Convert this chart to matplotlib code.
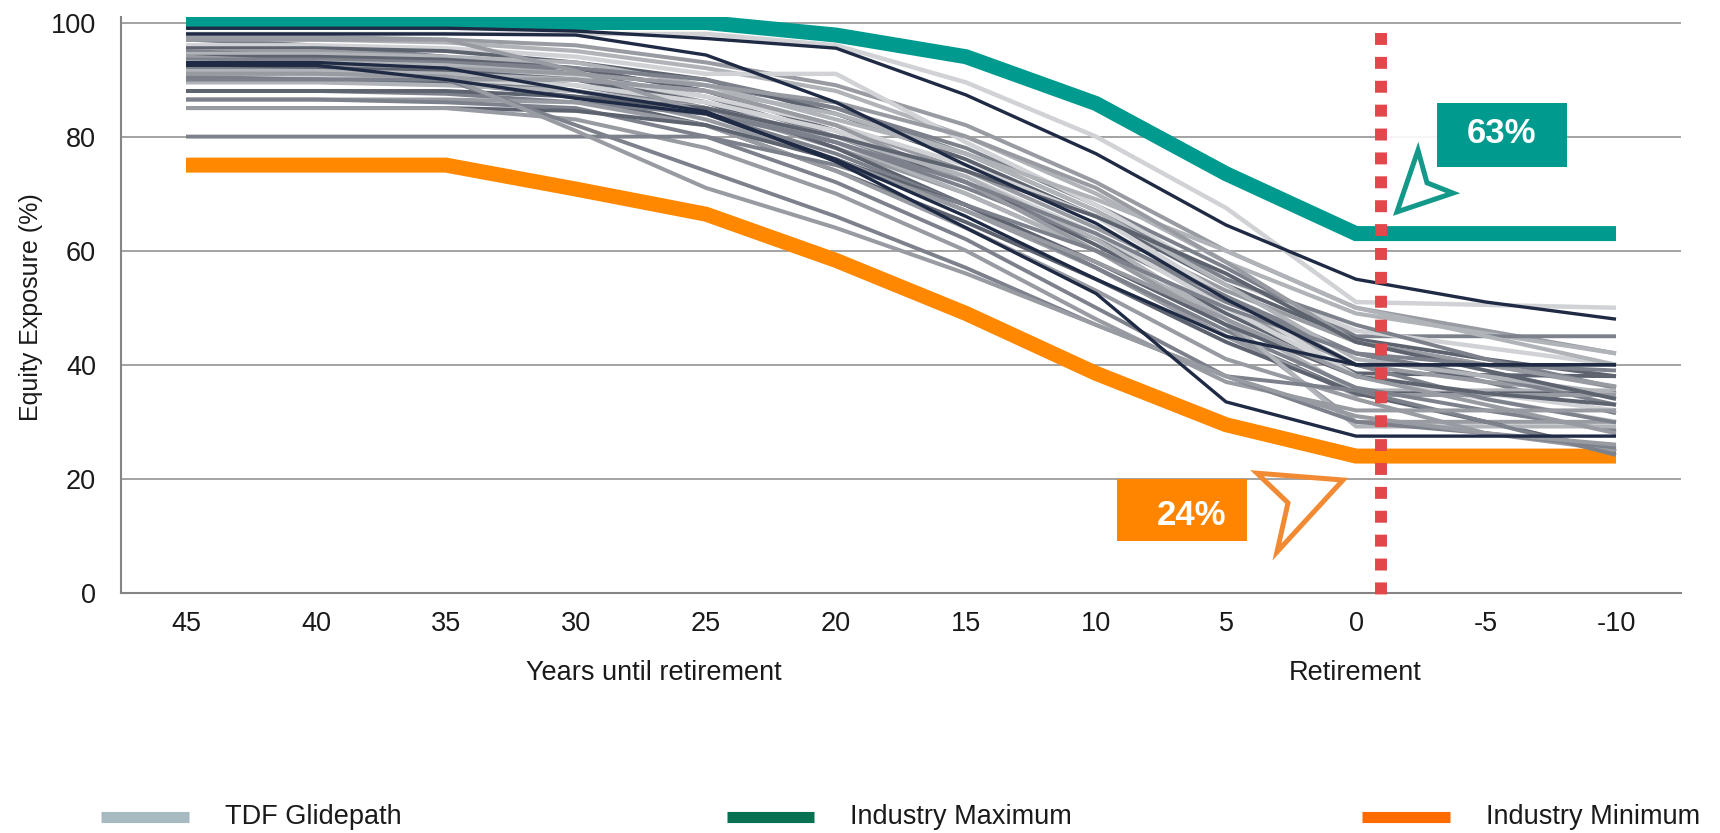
import matplotlib.pyplot as plt
from matplotlib.patches import Polygon, Rectangle
from matplotlib.lines import Line2D

plt.rcParams['font.family'] = ['Liberation Sans', 'DejaVu Sans']

years = ['45', '40', '35', '30', '25', '20', '15', '10', '5', '0', '-5', '-10']

industry_max = [100, 100, 100, 100, 100, 97.8, 94, 85.8, 73.5, 63, 63, 63]
industry_min = [75, 75, 75, 70.8, 66.4, 58.3, 49, 38.5, 29.5, 24, 24, 24]

# one row per target-date fund glidepath, equity % at each point above
glidepaths = [
    [98, 98, 98, 98, 98, 96, 89.5, 80, 67.5, 51, 50.5, 50],
    [97.5, 97.5, 97, 96, 93, 89, 82, 72, 60, 50, 46, 42],
    [97, 97, 96.5, 95, 92, 88, 80, 70, 58, 49, 45.5, 42],
    [97, 96, 94, 91, 89, 85, 78, 68, 57, 45, 45, 45],
    [96, 96, 95.5, 94, 91, 91, 79, 68, 55, 46, 43, 40],
    [95.5, 95.5, 95, 93, 90, 84, 76, 66, 54, 44.5, 41, 38],
    [95, 95, 94, 92, 88, 82, 74, 64, 53, 44, 40, 36],
    [95, 94, 93, 91, 87, 80, 72, 62, 51, 42, 37, 31.5],
    [94.5, 94.5, 94, 93, 89, 83, 77, 69, 60, 50, 45, 40],
    [94, 94, 93.5, 92, 88, 81, 72, 61, 49, 38.5, 38.2, 38],
    [94, 93, 92, 90, 85, 78, 70, 60, 50, 40, 37, 35],
    [93.5, 93.5, 93, 92, 90, 85, 77, 67, 55, 47, 41, 36],
    [93, 93, 92.5, 91, 86, 79, 70, 60, 48, 35.5, 35.5, 35.5],
    [93, 92.5, 92, 90.5, 87, 82, 75, 66, 52, 38, 34, 30],
    [92.5, 92.5, 92, 91, 89, 86, 80, 71, 58, 44, 40, 36.2],
    [92, 92, 91.5, 90, 86, 78, 68, 57, 45, 35, 35, 35],
    [92, 91.5, 91, 89, 85, 79, 71, 62, 52, 42, 38, 33],
    [91.5, 91.5, 91, 90, 88, 84, 77, 67, 54, 41, 38, 34.9],
    [91, 91, 90.5, 88, 83, 76, 67, 57, 45, 34.7, 34.7, 34.7],
    [90.5, 90.5, 90, 89, 86, 81, 73, 63, 50, 38, 35, 32],
    [90.5, 90, 89.5, 88, 84, 77, 68, 57, 46, 36, 32, 28.5],
    [90, 90, 90, 90, 88, 82, 72, 60, 47, 30, 30, 30],
    [90, 90, 89.5, 87, 82, 74, 65, 55, 44, 35, 30, 24.8],
    [89.5, 89.5, 89, 88, 85, 80, 73, 62, 48, 29.2, 29.2, 29.2],
    [88, 88, 87.5, 86, 84, 79, 72, 63, 52, 40, 34, 29.9],
    [88, 88, 88, 87, 85, 80, 74, 66, 56, 44, 39, 34],
    [86.5, 86.5, 86.5, 86, 82, 74, 64, 53, 41, 34, 28, 25],
    [86.5, 86.5, 86, 85, 80, 72, 62, 50, 38, 35.5, 30, 24.2],
    [85, 85, 85, 84.5, 82, 76, 68, 58, 47, 38, 35, 33],
    [85, 85, 85, 83, 78, 70, 60, 48, 37, 32, 32, 32],
    [80, 80, 80, 80, 80, 75, 68, 60, 50, 42, 40, 39],
    [97, 97, 97, 91.5, 84, 76, 67, 58, 48, 38, 33, 28],
    [90, 90, 90, 82, 74, 66, 57, 47, 38, 30, 28, 25.5],
    [91, 91, 90.5, 81, 71, 64, 56, 47, 38, 31, 28, 26],
    [99, 99, 99, 98.5, 97.2, 95.5, 87.3, 77, 64.5, 55, 51, 48],
    [98, 98, 98, 97.8, 94.3, 86, 75, 64.8, 51.5, 40, 40, 40],
    [92.5, 92.5, 90, 86.7, 84, 76, 66, 55, 45, 40, 40, 40],
    [93, 93, 92, 88, 84.4, 75.6, 64, 52.5, 33.5, 27.5, 27.5, 27.5],
]
shades = ['g5', 'g3', 'g4', 'g2', 'g5', 'g1', 'g3', 'g2', 'g4', 'g1',
          'g3', 'g2', 'g4', 'g5', 'g3', 'g1', 'g2', 'g4', 'g3', 'g5',
          'g2', 'g3', 'g1', 'g4', 'g2', 'g1', 'g3', 'g2', 'g1', 'g3',
          'g2', 'g3', 'g2', 'g3', 'n', 'n', 'n', 'n']

max_label = '63%'
min_label = '24%'
retirement_pos = 9.19

colors = {'n': '#1F2A44', 'g1': '#5E6370', 'g2': '#7D818B', 'g3': '#989BA2',
          'g4': '#B0B3B8', 'g5': '#D0D2D5'}
widths = {'n': 2.4, 'g1': 2.8, 'g2': 2.8, 'g3': 2.9, 'g4': 3.0, 'g5': 3.2}
TEAL = '#009B8E'
ORANGE = '#FF8800'

fig = plt.figure(figsize=(17.2, 8.33), dpi=100)
ax = fig.add_axes([0.07035, 0.28812, 0.90698, 0.69171])

x = list(range(len(years)))

ax.plot(x, industry_max, color=TEAL, lw=10.8, solid_joinstyle='miter',
        solid_capstyle='butt', zorder=2)
ax.plot(x, industry_min, color=ORANGE, lw=10.8, solid_joinstyle='miter',
        solid_capstyle='butt', zorder=2)
for vals, s in zip(glidepaths, shades):
    ax.plot(x, vals, color=colors[s], lw=widths[s], solid_capstyle='butt', zorder=3)

# retirement marker
ax.plot([retirement_pos, retirement_pos], [98.2, -1.2], color='#E1474B', lw=8.6,
        dashes=(1, 1), dash_capstyle='butt', clip_on=False, zorder=6)

# annotation boxes and pointers
ax.add_patch(Rectangle((9.208, 64.2), 0.67, 16.4, facecolor='white', edgecolor='none',
                       alpha=0.9, zorder=1))
ax.add_patch(Rectangle((9.623, 74.7), 1.0, 11.2, facecolor=TEAL, edgecolor='none', zorder=7))
ax.text(10.123, 80.5, max_label, color='white', fontsize=25, fontweight='bold',
        ha='center', va='center', zorder=8)
ax.add_patch(Polygon([(9.315, 66.8), (9.477, 77.6), (9.546, 71.9), (9.746, 70.1)],
                     closed=True, fill=False, edgecolor='#13988A', lw=3.6,
                     joinstyle='miter', zorder=7))

ax.add_patch(Rectangle((7.162, 9.1), 1.0, 10.8, facecolor='#FF8400', edgecolor='none',
                       zorder=7, clip_on=False))
ax.text(7.738, 13.6, min_label, color='white', fontsize=25, fontweight='bold',
        ha='center', va='center', zorder=8)
ax.add_patch(Polygon([(8.9, 19.8), (8.238, 21.0), (8.477, 15.8), (8.392, 7.2)],
                     closed=True, fill=False, edgecolor='#F28A33', lw=3.6,
                     joinstyle='miter', zorder=7))

ax.set_xlim(-0.5, 11.5)
ax.set_ylim(0, 101)
ax.set_xticks(x)
ax.set_xticklabels(years)
ax.set_yticks([0, 20, 40, 60, 80, 100])
ax.tick_params(axis='x', length=0, pad=13, labelsize=19.5, labelcolor='#1A1A1A')
ax.tick_params(axis='y', length=0, pad=18, labelsize=19.5, labelcolor='#1A1A1A')
ax.grid(axis='y', color='#8A8A8A', lw=1.1)
ax.set_axisbelow(True)
for side in ['top', 'right']:
    ax.spines[side].set_visible(False)
for side in ['left', 'bottom']:
    ax.spines[side].set_color('#858585')
    ax.spines[side].set_linewidth(1.5)

fig.text(0.018, 0.631, 'Equity Exposure (%)', rotation=90, ha='center', va='center',
         fontsize=18, color='#1A1A1A')
fig.text(654 / 1720, 0.192, 'Years until retirement', ha='center', va='center',
         fontsize=19.5, color='#1A1A1A')
fig.text(1355 / 1720, 0.192, 'Retirement', ha='center', va='center',
         fontsize=19.5, color='#1A1A1A')

# legend along the bottom edge
legend_items = [('TDF Glidepath', '#A7B9C1', 0.0587, 0.1099, 0.1308),
                ('Industry Maximum', '#087152', 0.4227, 0.4733, 0.4942),
                ('Industry Minimum', '#FF6B00', 0.7919, 0.8430, 0.8640)]
ly = 0.0192
for label, c, x0, x1, tx in legend_items:
    fig.add_artist(Line2D([x0, x1], [ly, ly], color=c, lw=8, solid_capstyle='butt',
                          transform=fig.transFigure))
    fig.text(tx, ly, label, ha='left', va='center', fontsize=19.5, color='#1A1A1A')

fig.savefig('out.png', dpi=100)
